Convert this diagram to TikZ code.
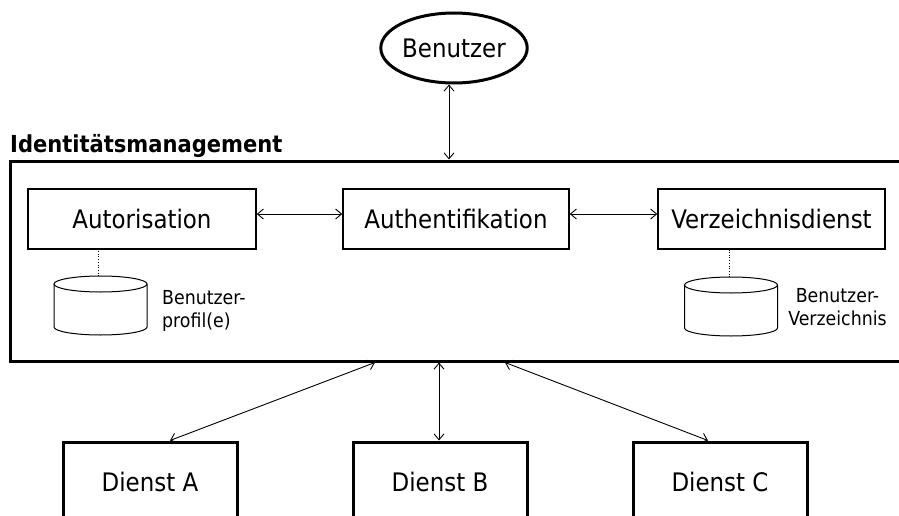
\documentclass[tikz,border=0pt]{standalone}
\usepackage{fontspec}
\setmainfont{DejaVu Sans Condensed}
\usetikzlibrary{arrows.meta,calc,shapes.geometric}
\tikzset{
  heavy/.style={draw, line width=3pt},
  bigtext/.style={font=\fontsize{25.5}{30}\selectfont},
  unitbox/.style={draw, line width=1.5pt, minimum width=227pt, minimum height=60pt, inner sep=0pt, bigtext},
  svcbox/.style={heavy, minimum width=174pt, minimum height=80pt, inner sep=0pt, bigtext},
  arr/.style={line width=0.9pt, {Straight Barb[length=6pt,width=10pt]}-{Straight Barb[length=6pt,width=10pt]}},
  link/.style={line width=0.7pt, dotted},
  cyl/.style={line width=1pt, fill=white},
  note/.style={inner sep=0pt, font=\fontsize{19.3}{23}\selectfont}
}
\begin{document}
\begin{tikzpicture}[x=1pt,y=-1pt]
\useasboundingbox (0,0) rectangle (899,516);
\clip (0,0) rectangle (899,516);

% user
\node[heavy, ellipse, minimum width=146pt, minimum height=70pt, inner sep=0pt, bigtext]
  (ben) at (454,48) {Benutzer};

% identity management frame
\node[anchor=base west, inner sep=0pt, font=\bfseries\fontsize{23.4}{28}\selectfont]
  (title) at (10,153) {Identitätsmanagement};
\node[heavy, minimum width=895pt, minimum height=200pt, inner sep=0pt] (idm) at (457.5,261) {};

% components
\node[unitbox, minimum width=228pt] (aut) at (142,219) {Autorisation};
\node[unitbox, minimum width=226pt] (authn) at (456,219) {Authentifikation};
\node[unitbox, minimum width=227pt] (dir) at (771.5,219) {Verzeichnisdienst};

% data stores
\coordinate (c1) at (100.5,284);
\coordinate (c2) at (731,285);
\foreach \c in {c1,c2}{
  \draw[cyl] ($(\c)+(-46.5,0)$) -- ($(\c)+(-46.5,43)$)
     arc[start angle=180, end angle=0, x radius=46.5, y radius=8]
     -- ($(\c)+(46.5,0)$);
  \draw[cyl] (\c) ellipse[x radius=46.5, y radius=8];
}
\coordinate (c1top) at (98,276);
\coordinate (c2top) at (729,277);
\draw[link] (c1top) -- (c1top |- aut.south);
\draw[link] (c2top) -- (c2top |- dir.south);

\node[note, anchor=west, align=left] (n1) at (162,311) {Benutzer-\\profil(e)};
\node[note, align=center] (n2) at (837.5,307) {Benutzer-\\Verzeichnis};

% services
\node[svcbox] (sa) at (150,482) {Dienst A};
\node[svcbox] (sb) at (440,482) {Dienst B};
\node[svcbox] (sc) at (720,482) {Dienst C};

% connectors
\draw[arr] ([xshift=-5pt]ben.south) -- ([xshift=-5pt]ben.south |- idm.north);
\draw[arr] ([yshift=5pt]aut.east) -- ([yshift=5pt]aut.east -| authn.west);
\draw[arr] ([yshift=5pt]authn.east) -- ([yshift=5pt]authn.east -| dir.west);
\draw[arr] ([xshift=-82.5pt]idm.south) -- ([xshift=20pt]sa.north);
\draw[arr] ([xshift=-18.5pt]idm.south) -- ([xshift=-18.5pt]idm.south |- sb.north);
\draw[arr] ([xshift=47.5pt]idm.south) -- ([xshift=-12pt]sc.north);
\end{tikzpicture}
\end{document}
